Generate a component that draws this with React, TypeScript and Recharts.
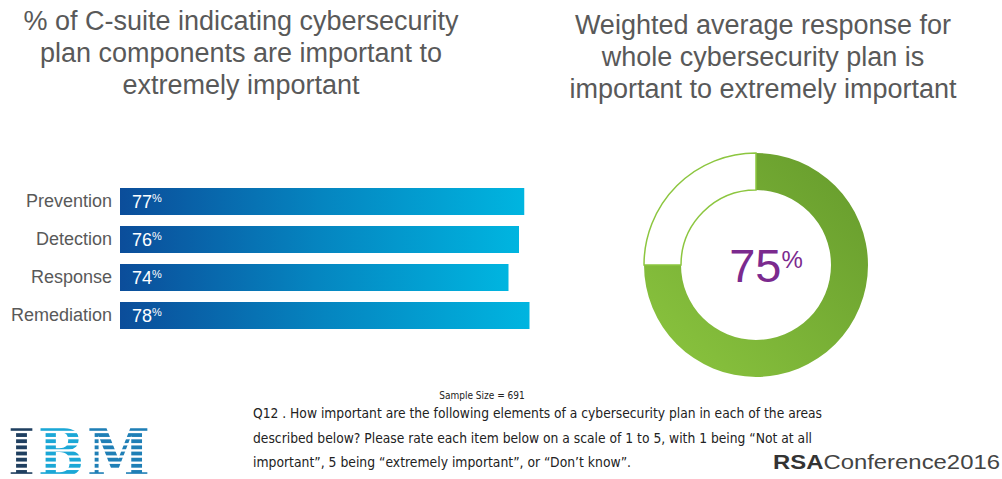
import React from 'react'
import { BarChart, Bar, XAxis, YAxis, LabelList, PieChart, Pie, Cell } from 'recharts'

const categories = ['Prevention', 'Detection', 'Response', 'Remediation']
const importantPct = [77, 76, 74, 78]

const planLabels = ['Important to extremely important', 'Other']
const planPct = [75, 25]

const leftTitle = ['% of C-suite indicating cybersecurity', 'plan components are important to', 'extremely  important']
const rightTitle = ['Weighted average response for', 'whole cybersecurity plan is', 'important  to extremely important']
const sampleNote = 'Sample Size = 691'
const questionLines = [
  'Q12 . How important are the following elements of a cybersecurity plan in each of the areas',
  'described below? Please rate each item below on a scale of 1 to 5, with  1 being \u201cNot at all',
  'important\u201d, 5 being \u201cextremely important\u201d, or \u201cDon\u2019t know\u201d.',
]

const barData = categories.map((name, i) => ({ name, value: importantPct[i] }))
const pieData = planLabels.map((name, i) => ({ name, value: planPct[i] }))

const sans = '"Liberation Sans", Arial, sans-serif'
const narrow = '"Liberation Sans Narrow", "DejaVu Sans Condensed", sans-serif'
const grey = '#595959'

// IBM logo letters: x, width, colour
const logoLetters = [
  { ch: 'I', x: 8, w: 27, fill: '#1f3f60' },
  { ch: 'B', x: 38, w: 46, fill: '#1ba7d6' },
  { ch: 'M', x: 87, w: 63, fill: '#1f7fb6' },
]

const PctLabel = (props: any) => {
  const { x, y, height, value } = props
  const cy = y + height / 2
  return (
    <text x={x + 12} y={cy + 6.5} fill="#fff" fontFamily={sans} fontSize={18}>
      {value}
      <tspan fontSize={11} dy={-6}>%</tspan>
    </text>
  )
}

const App: React.FC = () => {
  return (
    <div style={{ position: 'absolute', left: 0, top: 0, width: 1002, height: 479, background: '#fff', overflow: 'hidden' }}>
      <div style={{ position: 'absolute', left: 0, top: 182 }}>
        <BarChart width={540} height={152} data={barData} layout="vertical" margin={{ top: 0, right: 0, bottom: 0, left: 0 }}>
          <defs>
            <linearGradient id="barGrad" x1="0" y1="0" x2="1" y2="0">
              <stop offset="0%" stopColor="#0b4d9a" />
              <stop offset="50%" stopColor="#0585c0" />
              <stop offset="100%" stopColor="#00b5e0" />
            </linearGradient>
          </defs>
          <XAxis type="number" domain={[0, 80]} hide />
          <YAxis
            type="category"
            dataKey="name"
            width={120}
            axisLine={false}
            tickLine={false}
            tick={{ fill: grey, fontSize: 18, fontFamily: sans }}
          />
          <Bar dataKey="value" barSize={27} fill="url(#barGrad)" isAnimationActive={false}>
            <LabelList dataKey="value" content={PctLabel} />
          </Bar>
        </BarChart>
      </div>

      <div style={{ position: 'absolute', left: 636, top: 145 }}>
        <PieChart width={240} height={240} margin={{ top: 0, right: 0, bottom: 0, left: 0 }}>
          <defs>
            <linearGradient id="greenGrad" x1="1" y1="0" x2="0" y2="1">
              <stop offset="0%" stopColor="#659a2c" />
              <stop offset="100%" stopColor="#8cc63f" />
            </linearGradient>
          </defs>
          <Pie
            data={pieData}
            dataKey="value"
            cx={120}
            cy={120}
            innerRadius={75}
            outerRadius={112}
            startAngle={90}
            endAngle={-270}
            isAnimationActive={false}
          >
            <Cell fill="url(#greenGrad)" stroke="none" />
            <Cell fill="#fff" stroke="#8cc63f" strokeWidth={1.5} />
          </Pie>
        </PieChart>
      </div>

      <svg width={1002} height={479} style={{ position: 'absolute', left: 0, top: 0, pointerEvents: 'none' }}>
        <defs>
          <mask id="ibmStripes" maskUnits="userSpaceOnUse" x={0} y={420} width={160} height={59}>
            {[0, 1, 2, 3, 4, 5, 6, 7].map((i) => (
              <rect key={i} x={0} y={427 + i * 6.15} width={160} height={3.8} fill="#fff" />
            ))}
          </mask>
        </defs>

        {leftTitle.map((t, i) => (
          <text key={t} x={241} y={30 + i * 32} textAnchor="middle" fill={grey} fontFamily={sans} fontSize={27}>
            {t}
          </text>
        ))}
        {rightTitle.map((t, i) => (
          <text key={t} x={763} y={34 + i * 32} textAnchor="middle" fill={grey} fontFamily={sans} fontSize={27}>
            {t}
          </text>
        ))}

        <text x={766} y={282} textAnchor="middle" fill="#7b2a8e" fontFamily={sans}>
          <tspan fontSize={47}>{planPct[0]}</tspan>
          <tspan fontSize={24} dy={-14}>%</tspan>
        </text>

        <text x={482} y={399} textAnchor="middle" fill="#222" fontFamily={narrow} fontSize={10}>
          {sampleNote}
        </text>
        {questionLines.map((t, i) => (
          <text
            key={t}
            x={253}
            y={418 + i * 24.5}
            fill="#222"
            fontFamily={narrow}
            fontSize={14}
            textLength={[569, 559, 378][i]}
            lengthAdjust="spacingAndGlyphs"
          >
            {t}
          </text>
        ))}

        <g mask="url(#ibmStripes)">
          {logoLetters.map((l) => (
            <text
              key={l.ch}
              x={l.x}
              y={476}
              fill={l.fill}
              fontFamily='"DejaVu Serif", serif'
              fontWeight="bold"
              fontSize={66}
              textLength={l.w}
              lengthAdjust="spacingAndGlyphs"
            >
              {l.ch}
            </text>
          ))}
        </g>

        <text x={773} y={469} fill="#333" fontFamily={sans} fontSize={21} textLength={227} lengthAdjust="spacingAndGlyphs">
          <tspan fontWeight="bold">RSA</tspan>
          <tspan fill="#444">Conference2016</tspan>
        </text>
      </svg>
    </div>
  )
}

export default App
